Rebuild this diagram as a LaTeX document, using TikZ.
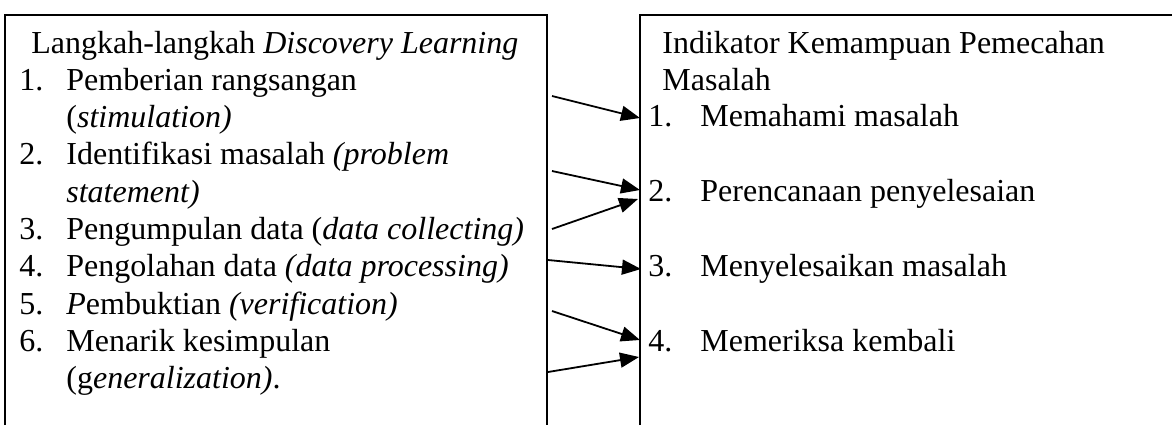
\documentclass[tikz,border=0pt]{standalone}
\usepackage{fontspec}
\setmainfont{Liberation Serif}
\usetikzlibrary{arrows.meta}

\begin{document}
\begin{tikzpicture}[x=0.5pt, y=-0.5pt, >={Triangle[length=9.5pt,width=7.5pt]}]
  \tikzset{
    txt/.style={anchor=base west,inner sep=0pt,
                font=\fontsize{16}{18.65}\selectfont},
    frm/.style={draw=black,line width=0.9pt},
    arr/.style={->,draw=black,line width=0.9pt}
  }
  \useasboundingbox (0,0) rectangle (1172,425);
  % Frames (both run off the bottom, right one off the side)
  \draw[frm] (5,425) -- (5,15) -- (547,15) -- (547,425);
  \draw[frm] (640,425) -- (640,15) -- (1172,15);
  % Left list
  \node[txt] (lh) at (31,53) {Langkah-langkah \textit{Discovery Learning}};
  \node[txt] (ln1) at (19,90.3)  {1.};
  \node[txt] (lt1) at (66,90.3)  {Pemberian rangsangan};
  \node[txt] (lt1b) at (66,127.6) {(\textit{stimulation)}};
  \node[txt] (ln2) at (19,164.9) {2.};
  \node[txt] (lt2) at (66,164.9) {Identifikasi masalah \textit{(problem}};
  \node[txt] (lt2b) at (66,202.2) {\textit{statement)}};
  \node[txt] (ln3) at (19,239.5) {3.};
  \node[txt] (lt3) at (66,239.5) {Pengumpulan data (\textit{data collecting)}};
  \node[txt] (ln4) at (19,276.8) {4.};
  \node[txt] (lt4) at (66,276.8) {Pengolahan data \textit{(data processing)}};
  \node[txt] (ln5) at (19,314.1) {5.};
  \node[txt] (lt5) at (66,314.1) {\textit{P}embuktian \textit{(verification)}};
  \node[txt] (ln6) at (19,351.4) {6.};
  \node[txt] (lt6) at (66,351.4) {Menarik kesimpulan};
  \node[txt] (lt6b) at (66,388.7) {(g\textit{eneralization)}.};
  % Right list
  \node[txt] (rh) at (662,53) {Indikator Kemampuan Pemecahan};
  \node[txt] (rhb) at (662,90.3) {Masalah};
  \node[txt] (rn1) at (648,126) {1.};
  \node[txt] (rt1) at (700,126) {Memahami masalah};
  \node[txt] (rn2) at (648,201) {2.};
  \node[txt] (rt2) at (700,201) {Perencanaan penyelesaian};
  \node[txt] (rn3) at (648,276.8) {3.};
  \node[txt] (rt3) at (700,276.8) {Menyelesaikan masalah};
  \node[txt] (rn4) at (648,351.4) {4.};
  \node[txt] (rt4) at (700,351.4) {Memeriksa kembali};
  % Arrow ends on the two frames
  \coordinate (s1) at (552,96);  \coordinate (e1) at (640,118);
  \coordinate (s2) at (552,171); \coordinate (e2) at (640,190);
  \coordinate (s3) at (552,229); \coordinate (e3) at (638,199);
  \coordinate (s4) at (548,260); \coordinate (e4) at (641,269);
  \coordinate (s5) at (552,311); \coordinate (e5) at (640,340);
  \coordinate (s6) at (548,372); \coordinate (e6) at (639,357);
  \foreach \i in {1,...,6}
    \draw[arr] (s\i) -- (e\i);
\end{tikzpicture}
\end{document}
